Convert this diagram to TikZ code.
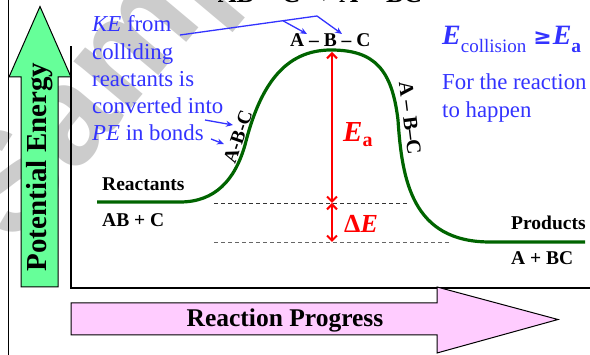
\documentclass[tikz,border=0pt]{standalone}
\usepackage{fontspec}
\setmainfont{Liberation Serif}
\newfontfamily\wmfont{Liberation Sans}
\newfontfamily\symfont{DejaVu Sans}
\usetikzlibrary{arrows.meta}
\definecolor{curvegreen}{RGB}{0,100,0}
\definecolor{txtblue}{RGB}{51,51,255}
\definecolor{arrowgreen}{RGB}{102,255,153}
\definecolor{arrowpink}{RGB}{255,204,255}
\definecolor{wmgray}{RGB}{204,204,204}
\begin{document}
\begin{tikzpicture}[x=1pt,y=-1pt,
  lbl/.style={inner sep=0pt, font=\fontsize{19.5}{20}\selectfont\bfseries},
  bluetxt/.style={inner sep=0pt, text=txtblue, font=\fontsize{22.8}{24}\selectfont, anchor=base west},
  blueline/.style={draw=txtblue, line width=1.3pt},
  bluearrow/.style={blueline, -{Stealth[length=7pt,width=6pt]}},
  redarrow/.style={draw=red, line width=2pt, {Straight Barb[length=5pt,width=10pt]}-{Straight Barb[length=5pt,width=10pt]}},
  curve/.style={draw=curvegreen, line width=3.2pt},
  level/.style={draw=black!80, line width=0.9pt, dash pattern=on 4pt off 3pt},
  frame/.style={draw=black, line width=1.6pt}]
\useasboundingbox (0,0) rectangle (590,355);
\begin{scope}
\clip (0,0) rectangle (590,355);
% watermark
\node[inner sep=0pt, anchor=base west, text=wmgray, rotate=50, font=\fontsize{140}{140}\selectfont\wmfont\bfseries] (wm) at (14,248) {Sample};
% title (cut at the top)
\node[lbl, anchor=base, font=\fontsize{26}{26}\selectfont\bfseries] (title) at (320,3) {AB + C → A + BC};
\end{scope}
% outer line
\draw[frame] (8.5,0) -- (8.5,355);
% green arrow
\draw[fill=arrowgreen, line width=1pt] (21,287) -- (21,77) -- (9,77) -- (40,6.5) -- (71,77) -- (58,77) -- (58,287) -- cycle;
\node[inner sep=0pt, rotate=90, font=\fontsize{29}{29}\selectfont\bfseries] (pe) at (40,167) {Potential Energy};
% axes
\draw[frame] (71,46.5) -- (71,288) -- (590,288);
% pink arrow
\draw[fill=arrowpink, line width=1pt] (71,303) -- (437,303) -- (437,287) -- (558,319.5) -- (437,353) -- (437,335) -- (71,335) -- cycle;
\node[inner sep=0pt, font=\fontsize{25.5}{26}\selectfont\bfseries] (rp) at (285,320) {Reaction Progress};
% levels
\draw[level] (214,203) -- (408,203);
\draw[level, draw=black!60] (214,242) -- (450,242);
% curve
\draw[curve] (97,202) -- (180,202) .. controls (215,202) and (235,180) .. (245,145)
  .. controls (260,85) and (285,50) .. (331,50)
  .. controls (375,50) and (392,70) .. (398,120)
  .. controls (402,180) and (412,242) .. (490,242) -- (585,242);
% red arrows
\coordinate (peak) at (332,52);
\coordinate (rlev) at (332,203);
\coordinate (plev) at (332,242);
\draw[redarrow] (peak) -- (rlev);
\draw[redarrow] (rlev) -- (plev);
\node[inner sep=0pt, anchor=base west, text=red] (ea) at (343,142) {\fontsize{29}{29}\selectfont\bfseries\itshape E\raisebox{-5pt}{\fontsize{20}{20}\selectfont\upshape a}};
\node[inner sep=0pt, anchor=base west, text=red] (de) at (344,233) {\fontsize{26}{26}\selectfont\bfseries Δ\itshape E};
% labels
\node[lbl, anchor=base west] (reac) at (102,191) {Reactants};
\node[lbl, anchor=base west] (reacf) at (102,227) {AB + C};
\node[lbl, anchor=base west] (prod) at (511,230) {Products};
\node[lbl, anchor=base west] (prodf) at (511,265) {A + BC};
\node[lbl, anchor=base west] (ts) at (290,47) {A -- B -- C};
\node[lbl, rotate=71] (abcl) at (238,137) {A-B-C};
\node[lbl, rotate=-83, font=\fontsize{20.5}{21}\selectfont\bfseries] (abcr) at (410,118) {A -- B--C};
% blue text
\node[bluetxt] (ke1) at (92,32) {\itshape KE\upshape{} from};
\node[bluetxt] (ke2) at (92,59.5) {colliding};
\node[bluetxt] (ke3) at (92,87) {reactants is};
\node[bluetxt] (ke4) at (92,114) {converted into};
\node[bluetxt] (ke5) at (92,141) {\itshape PE\upshape{} in bonds};
\node[bluetxt] (fr1) at (442,90) {For the reaction};
\node[bluetxt] (fr2) at (442,118) {to happen};
\node[inner sep=0pt, anchor=base west, text=txtblue] (ecol) at (442,45) {\fontsize{28}{28}\selectfont\bfseries\itshape E\raisebox{-8pt}{\fontsize{19}{19}\selectfont\mdseries\upshape collision}\hspace{7pt}{\symfont\fontsize{22}{22}\selectfont\bfseries ≥}\hspace{1pt}\itshape E\raisebox{-8pt}{\fontsize{19.5}{19.5}\selectfont\upshape a}};
% blue leaders
\coordinate (kestart) at (180,35);
\coordinate (kebend) at (317,16);
\coordinate (kebranch) at (283,20.8);
\coordinate (bondab) at (307,34);
\coordinate (bondbc) at (342,34);
\draw[blueline] (kestart) -- (kebend);
\draw[bluearrow] (kebend) -- (bondbc);
\draw[bluearrow] (kebranch) -- (bondab);
\coordinate (cvstart) at (205,120);
\coordinate (cvend) at (233,125);
\coordinate (pestart) at (211,139);
\coordinate (peend) at (224,144);
\draw[bluearrow] (cvstart) -- (cvend);
\draw[bluearrow] (pestart) -- (peend);
\end{tikzpicture}
\end{document}
